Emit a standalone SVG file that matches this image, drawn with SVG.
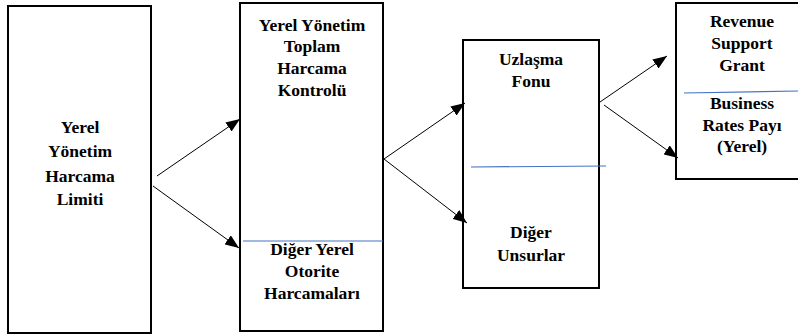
<svg xmlns="http://www.w3.org/2000/svg" width="798" height="336" viewBox="0 0 798 336">
  <style>
    .box { fill: #ffffff; stroke: #000000; stroke-width: 2; }
    .sep { stroke: #4472c4; stroke-width: 1.2; fill: none; }
    .conn { stroke: #000000; stroke-width: 1; fill: none; marker-end: url(#arrow); }
  </style>
  <defs>
    <marker id="arrow" viewBox="0 0 14 11" refX="14" refY="5.5" markerWidth="14" markerHeight="11" markerUnits="userSpaceOnUse" orient="auto">
      <path d="M0,0 L14,5.5 L0,11 Z" fill="#000000"/>
    </marker>
  </defs>
  <rect width="798" height="336" fill="#ffffff"/>

  <g id="limit">
    <rect class="box" x="8" y="6" width="143" height="327"/>
    <g font-family="'Liberation Serif', serif" font-weight="bold" font-size="17.5" text-anchor="middle" fill="#000000">
      <text x="80" y="133">Yerel</text>
      <text x="80" y="157">Yönetim</text>
      <text x="80" y="182">Harcama</text>
      <text x="80" y="205">Limiti</text>
    </g>
  </g>

  <g id="total-control">
    <rect class="box" x="240" y="3" width="143" height="328"/>
    <line class="sep" x1="243" y1="241" x2="383" y2="241"/>
    <g font-family="'Liberation Serif', serif" font-weight="bold" font-size="17.5" text-anchor="middle" fill="#000000">
      <text x="312" y="31">Yerel Yönetim</text>
      <text x="312" y="52">Toplam</text>
      <text x="312" y="74">Harcama</text>
      <text x="312" y="96">Kontrolü</text>
      <text x="312" y="255">Diğer Yerel</text>
      <text x="312" y="277">Otorite</text>
      <text x="312" y="299">Harcamaları</text>
    </g>
  </g>

  <g id="settlement">
    <rect class="box" x="463" y="40" width="136" height="248"/>
    <line class="sep" x1="471" y1="167" x2="606" y2="166"/>
    <g font-family="'Liberation Serif', serif" font-weight="bold" font-size="17.5" text-anchor="middle" fill="#000000">
      <text x="531" y="65">Uzlaşma</text>
      <text x="531" y="87">Fonu</text>
      <text x="531" y="238">Diğer</text>
      <text x="531" y="261">Unsurlar</text>
    </g>
  </g>

  <g id="grant">
    <rect class="box" x="676" y="3" width="124" height="176"/>
    <line class="sep" x1="684" y1="93" x2="798" y2="91"/>
    <g font-family="'Liberation Serif', serif" font-weight="bold" font-size="17.5" text-anchor="middle" fill="#000000">
      <text x="742" y="27">Revenue</text>
      <text x="742" y="49">Support</text>
      <text x="742" y="71">Grant</text>
      <text x="742" y="109">Business</text>
      <text x="742" y="131">Rates Payı</text>
      <text x="742" y="152">(Yerel)</text>
    </g>
  </g>

  <g id="connectors">
    <line class="conn" x1="157" y1="176" x2="240" y2="119"/>
    <line class="conn" x1="153" y1="186" x2="239" y2="248"/>
    <line class="conn" x1="384" y1="159" x2="465" y2="103"/>
    <line class="conn" x1="384" y1="159" x2="467" y2="223"/>
    <line class="conn" x1="600" y1="102" x2="667" y2="56"/>
    <line class="conn" x1="604" y1="105" x2="678" y2="158"/>
  </g>
</svg>
